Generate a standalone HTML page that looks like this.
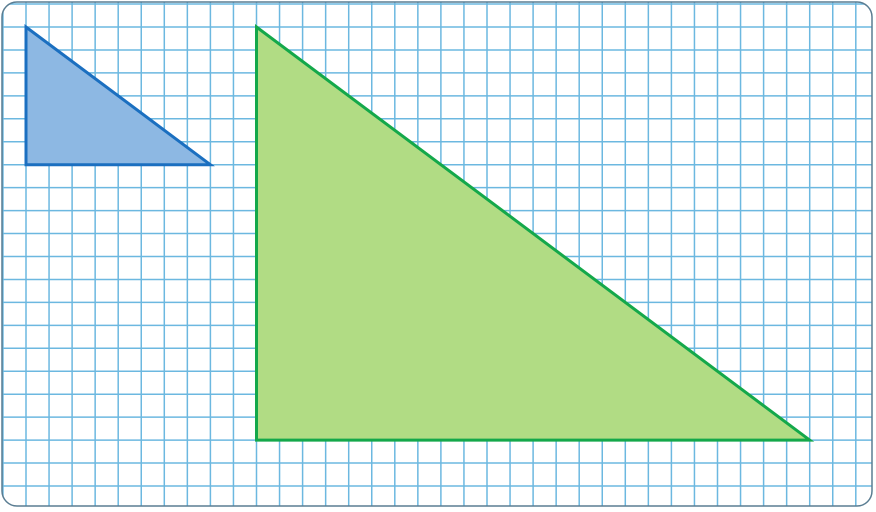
<!DOCTYPE html>
<html><head><meta charset="utf-8"><style>html,body{margin:0;padding:0;background:#fff}svg{display:block}</style></head>
<body>
<svg id="chart" width="876" height="512" viewBox="0 0 876 512" xmlns="http://www.w3.org/2000/svg">
<defs><clipPath id="clip"><rect x="2" y="2" width="870" height="504" rx="15"/></clipPath></defs>
<g id="grid" clip-path="url(#clip)"></g>
<rect x="2" y="2" width="870" height="504" rx="15" fill="none" stroke="#5a7d92" stroke-width="1.5"/>
<g id="shapes"></g>
</svg>
<script>
const smallTriangle = [[0,0],[0,6],[8,6]];
const largeTriangle = [[10,0],[10,18],[34,18]];
const ox = 26, oy = 27, cellX = 23.05, cellY = 22.95;
const sx = u => ox + u*cellX, sy = v => oy + v*cellY;
const NS = 'http://www.w3.org/2000/svg';
const grid = document.getElementById('grid');
for (let i = -2; i <= 37; i++) {
  const l = document.createElementNS(NS,'line');
  l.setAttribute('x1', sx(i)); l.setAttribute('x2', sx(i));
  l.setAttribute('y1', 0); l.setAttribute('y2', 512);
  l.setAttribute('stroke','#6cb8e0'); l.setAttribute('stroke-width','1.5');
  
  
  grid.appendChild(l);
}
for (let j = -2; j <= 22; j++) {
  const l = document.createElementNS(NS,'line');
  l.setAttribute('y1', sy(j)); l.setAttribute('y2', sy(j));
  l.setAttribute('x1', 0); l.setAttribute('x2', 876);
  l.setAttribute('stroke','#6cb8e0'); l.setAttribute('stroke-width','1.5');
  
  
  grid.appendChild(l);
}
const shapes = document.getElementById('shapes');
function tri(pts, fill, stroke, name) {
  const p = document.createElementNS(NS,'polygon');
  p.setAttribute('points', pts.map(q => sx(q[0])+','+sy(q[1])).join(' '));
  p.setAttribute('fill', fill); p.setAttribute('stroke', stroke);
  p.setAttribute('stroke-width','3'); p.setAttribute('stroke-linejoin','miter');
  
  
  shapes.appendChild(p);
}
tri(smallTriangle, '#8db8e3', '#1b6fc0', 'small-triangle');
tri(largeTriangle, '#b1dc84', '#14a84a', 'large-triangle');
</script>
</body></html>
